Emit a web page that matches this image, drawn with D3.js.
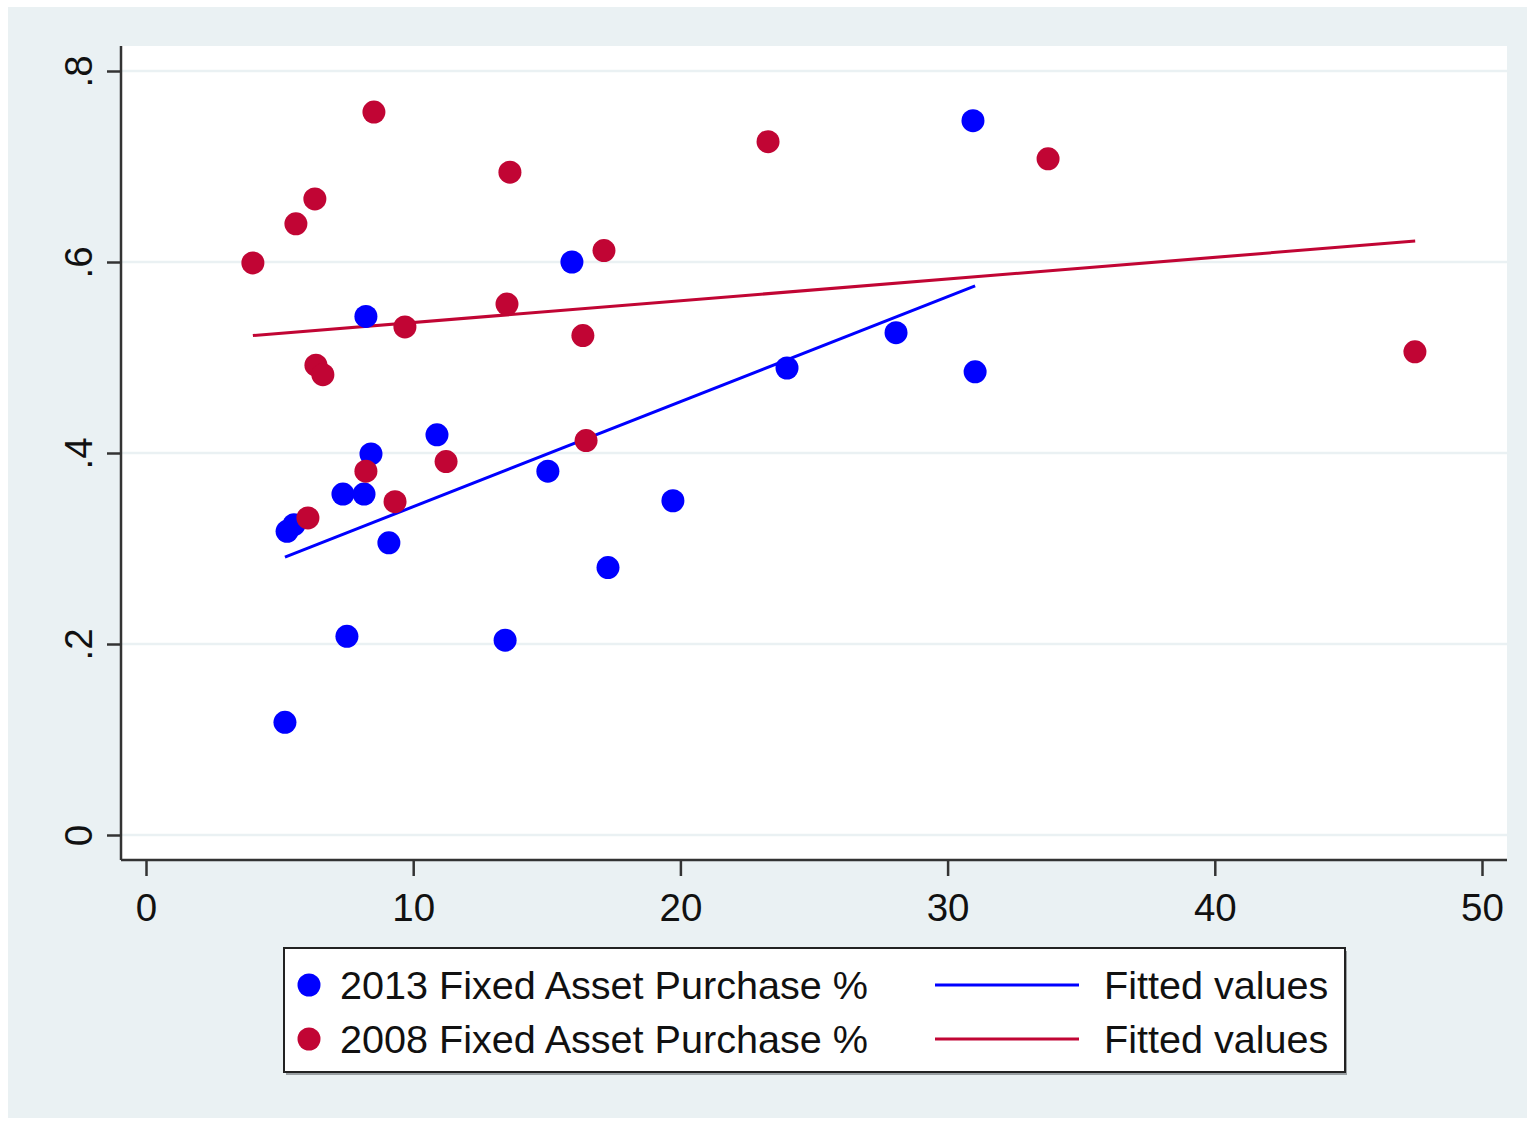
<!DOCTYPE html>
<html>
<head>
<meta charset="utf-8">
<script src="https://cdn.jsdelivr.net/npm/d3@7"></script>
<style>
  html, body { margin: 0; padding: 0; background: #ffffff; }
  svg { display: block; }
  text { font-family: "Liberation Sans", Arial, sans-serif; fill: #111; }
</style>
</head>
<body>
<svg id="chart" width="1530" height="1121"></svg>
<script>
// Fixed asset purchase share (y) against x, two survey years
const x2013 = [5.20, 5.28, 5.54, 7.37, 8.16, 7.52, 8.23, 8.42, 9.09, 10.89, 13.44, 15.04, 15.94, 17.29, 19.72, 23.99, 28.07, 30.95, 31.03];
const y2013 = [0.118, 0.318, 0.325, 0.357, 0.357, 0.208, 0.543, 0.399, 0.306, 0.419, 0.204, 0.381, 0.600, 0.280, 0.350, 0.489, 0.526, 0.748, 0.485];

const x2008 = [4.00, 5.61, 6.32, 8.53, 6.06, 6.36, 6.62, 8.23, 9.32, 9.69, 11.23, 13.51, 13.62, 16.35, 16.47, 17.14, 23.28, 33.76, 47.49];
const y2008 = [0.599, 0.640, 0.666, 0.757, 0.332, 0.492, 0.482, 0.381, 0.349, 0.532, 0.391, 0.556, 0.694, 0.523, 0.413, 0.612, 0.726, 0.708, 0.506];

// Linear fit endpoints for each year
const fit2013X = [5.20, 31.03];
const fit2013Y = [0.291, 0.575];
const fit2008X = [4.00, 47.50];
const fit2008Y = [0.523, 0.622];

const xTicks = [0, 10, 20, 30, 40, 50];
const yTicks = [0, 0.2, 0.4, 0.6, 0.8];
const yTickLabels = ["0", ".2", ".4", ".6", ".8"];

const seriesNames = ["2013 Fixed Asset Purchase %", "2008 Fixed Asset Purchase %"];
const fitNames = ["Fitted values", "Fitted values"];

const BLUE = "#0000ff";
const RED = "#c10534";
const BG = "#eaf1f3";

const svg = d3.select("#chart");

// outer graph region
svg.append("rect").attr("x", 8).attr("y", 7).attr("width", 1519).attr("height", 1111).attr("fill", BG);

const frame = { left: 121, right: 1507, top: 46, bottom: 860 };

const x = d3.scaleLinear().domain([0, 50]).range([146, 1482]);
const y = d3.scaleLinear().domain([0, 0.8]).range([835, 71]);

// plot region
svg.append("rect")
  .attr("x", frame.left).attr("y", frame.top)
  .attr("width", frame.right - frame.left).attr("height", frame.bottom - frame.top)
  .attr("fill", "#ffffff");

// horizontal grid lines
svg.append("g").selectAll("line").data(yTicks).join("line")
  .attr("x1", frame.left).attr("x2", frame.right)
  .attr("y1", d => y(d)).attr("y2", d => y(d))
  .attr("stroke", BG).attr("stroke-width", 2.5);

// fitted lines
const line = d3.line().x(d => x(d[0])).y(d => y(d[1]));
svg.append("path").datum(d3.zip(fit2013X, fit2013Y))
  .attr("d", line).attr("fill", "none").attr("stroke", BLUE).attr("stroke-width", 3);
svg.append("path").datum(d3.zip(fit2008X, fit2008Y))
  .attr("d", line).attr("fill", "none").attr("stroke", RED).attr("stroke-width", 3);

// scatter points
svg.append("g").selectAll("circle").data(d3.zip(x2013, y2013)).join("circle")
  .attr("cx", d => x(d[0])).attr("cy", d => y(d[1])).attr("r", 11.5).attr("fill", BLUE);
svg.append("g").selectAll("circle").data(d3.zip(x2008, y2008)).join("circle")
  .attr("cx", d => x(d[0])).attr("cy", d => y(d[1])).attr("r", 11.5).attr("fill", RED);

// x axis
const xAxis = d3.axisBottom(x).tickValues(xTicks).tickSize(16).tickPadding(18).tickFormat(d3.format("d"));
const gx = svg.append("g").attr("transform", `translate(0,${frame.bottom})`).call(xAxis);
gx.select(".domain").remove();
gx.selectAll(".tick line").attr("stroke", "#333").attr("stroke-width", 2.5);
gx.selectAll(".tick text").attr("font-size", 38.5).attr("font-family", "Liberation Sans, Arial, sans-serif").attr("fill", "#111");
svg.append("line").attr("x1", frame.left).attr("x2", frame.right)
  .attr("y1", frame.bottom).attr("y2", frame.bottom).attr("stroke", "#333").attr("stroke-width", 2.5);

// y axis (labels rotated, reading upward)
const yAxis = d3.axisLeft(y).tickValues(yTicks).tickSize(14).tickFormat((d, i) => yTickLabels[i]);
const gy = svg.append("g").attr("transform", `translate(${frame.left},0)`).call(yAxis);
gy.select(".domain").remove();
gy.selectAll(".tick line").attr("stroke", "#333").attr("stroke-width", 2.5);
gy.selectAll(".tick text")
  .attr("font-size", 38.5).attr("font-family", "Liberation Sans, Arial, sans-serif").attr("fill", "#111")
  .attr("x", null).attr("dy", null)
  .attr("text-anchor", "middle")
  .attr("transform", "translate(-29,0) rotate(-90)");
svg.append("line").attr("x1", frame.left).attr("x2", frame.left)
  .attr("y1", frame.top).attr("y2", frame.bottom).attr("stroke", "#333").attr("stroke-width", 2.5);

// legend
const lg = svg.append("g");
lg.append("rect").attr("x", 286).attr("y", 951).attr("width", 1061).attr("height", 124).attr("fill", "#9aa0a3");
lg.append("rect").attr("x", 284).attr("y", 948).attr("width", 1061).attr("height", 124)
  .attr("fill", "#ffffff").attr("stroke", "#222").attr("stroke-width", 2);

const rowY = [985, 1039];
const colors = [BLUE, RED];
lg.selectAll("circle.key").data(seriesNames).join("circle")
  .attr("cx", 309).attr("cy", (d, i) => rowY[i]).attr("r", 11.5).attr("fill", (d, i) => colors[i]);
lg.selectAll("text.series").data(seriesNames).join("text")
  .attr("x", 340).attr("y", (d, i) => rowY[i]).attr("dy", "0.36em")
  .attr("font-size", 39.6).text(d => d);
lg.selectAll("line.key").data(fitNames).join("line")
  .attr("x1", 935).attr("x2", 1079)
  .attr("y1", (d, i) => rowY[i]).attr("y2", (d, i) => rowY[i])
  .attr("stroke", (d, i) => colors[i]).attr("stroke-width", 3);
lg.selectAll("text.fit").data(fitNames).join("text")
  .attr("x", 1104).attr("y", (d, i) => rowY[i]).attr("dy", "0.36em")
  .attr("font-size", 39.6).text(d => d);
</script>
</body>
</html>
